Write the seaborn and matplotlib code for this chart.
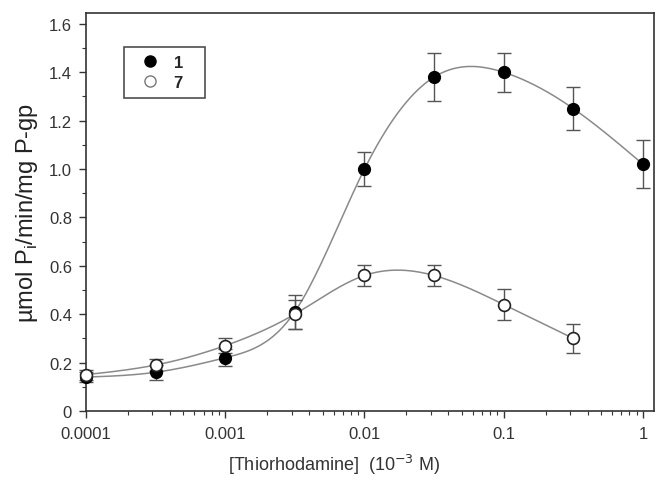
import numpy as np
import pandas as pd
import matplotlib
matplotlib.use("Agg")
import matplotlib.pyplot as plt
from matplotlib.lines import Line2D
from matplotlib.ticker import MultipleLocator, LogLocator, NullFormatter, FixedFormatter, FixedLocator
import seaborn as sns

# Data
conc = [1e-4, 3.16e-4, 1e-3, 3.16e-3, 1e-2, 3.16e-2, 0.1, 0.316, 1.0]
atpase_1 = [0.14, 0.16, 0.22, 0.41, 1.00, 1.38, 1.40, 1.25, 1.02]
err_1 = [0.02, 0.03, 0.035, 0.07, 0.072, 0.10, 0.08, 0.09, 0.10]
conc_7 = conc[:8]
atpase_7 = [0.15, 0.19, 0.27, 0.40, 0.56, 0.56, 0.44, 0.30]
err_7 = [0.02, 0.025, 0.03, 0.06, 0.045, 0.045, 0.063, 0.06]
x_ticks = [1e-4, 1e-3, 1e-2, 1e-1, 1]
x_tick_labels = ["0.0001", "0.001", "0.01", "0.1", "1"]
y_ticks = [0, 0.2, 0.4, 0.6, 0.8, 1.0, 1.2, 1.4, 1.6]
y_tick_labels = ["0", "0.2", "0.4", "0.6", "0.8", "1.0", "1.2", "1.4", "1.6"]


def smooth_curve(x, y, n=300):
    # natural cubic spline through the points, in log10(x)
    lx = np.log10(x)
    y = np.asarray(y, dtype=float)
    k = len(lx)
    h = np.diff(lx)
    A = np.zeros((k, k))
    b = np.zeros(k)
    A[0, 0] = A[-1, -1] = 1
    for i in range(1, k - 1):
        A[i, i - 1] = h[i - 1]
        A[i, i] = 2 * (h[i - 1] + h[i])
        A[i, i + 1] = h[i]
        b[i] = 6 * ((y[i + 1] - y[i]) / h[i] - (y[i] - y[i - 1]) / h[i - 1])
    M = np.linalg.solve(A, b)
    xs = np.linspace(lx[0], lx[-1], n)
    idx = np.clip(np.searchsorted(lx, xs) - 1, 0, k - 2)
    x0, x1 = lx[idx], lx[idx + 1]
    hh = x1 - x0
    t0, t1 = x1 - xs, xs - x0
    ys = (M[idx] * t0**3 + M[idx + 1] * t1**3) / (6 * hh) \
        + (y[idx] / hh - M[idx] * hh / 6) * t0 \
        + (y[idx + 1] / hh - M[idx + 1] * hh / 6) * t1
    return pd.DataFrame({"x": 10**xs, "y": ys})


sns.set_style("ticks")
plt.rcParams["font.family"] = ["Liberation Sans", "DejaVu Sans"]

fig = plt.figure(figsize=(6.68, 4.89), dpi=100)
ax = fig.add_axes([0.1287, 0.1575, 0.8503, 0.8139])

# fitted curves
fit_1 = smooth_curve(conc, atpase_1)
fit_7 = smooth_curve(conc_7, atpase_7)
sns.lineplot(data=fit_1, x="x", y="y", ax=ax, color="#8a8a8a", lw=1.1, sort=False)
sns.lineplot(data=fit_7, x="x", y="y", ax=ax, color="#8a8a8a", lw=1.1, sort=False)

# error bars
ax.errorbar(conc, atpase_1, yerr=err_1, fmt="none", ecolor="#555555",
            elinewidth=1, capsize=5, capthick=1, zorder=3, clip_on=False)
ax.errorbar(conc_7, atpase_7, yerr=err_7, fmt="none", ecolor="#555555",
            elinewidth=1, capsize=5, capthick=1, zorder=3, clip_on=False)

# markers
ax.plot(conc, atpase_1, "o", ms=8.5, mfc="black", mec="black", zorder=4, clip_on=False)
ax.plot(conc_7, atpase_7, "o", ms=8.5, mfc="white", mec="#222222", mew=1.2,
        zorder=5, clip_on=False)

ax.set_xscale("log")
ax.set_xlim(1e-4, 1.2)
ax.set_ylim(0, 1.645)
ax.xaxis.set_major_locator(FixedLocator(x_ticks))
ax.xaxis.set_major_formatter(FixedFormatter(x_tick_labels))
ax.xaxis.set_minor_locator(LogLocator(base=10, subs=np.arange(2, 10)))
ax.xaxis.set_minor_formatter(NullFormatter())
ax.set_yticks(y_ticks)
ax.set_yticklabels(y_tick_labels)
ax.yaxis.set_minor_locator(MultipleLocator(0.1))

ax.tick_params(which="major", direction="out", length=5, width=1,
               labelsize=12, labelcolor="#333333", color="#333333")
ax.tick_params(axis="x", which="major", pad=6)
ax.tick_params(axis="y", which="major", pad=5)
ax.tick_params(which="minor", direction="out", length=3, width=0.8, color="#333333")
for s in ax.spines.values():
    s.set_visible(True)
    s.set_linewidth(1.2)
    s.set_color("#333333")

ax.set_xlabel("[Thiorhodamine]  (10$^{-3}$ M)", fontsize=13, color="#333333")
ax.xaxis.set_label_coords(0.437, -0.133)
ax.xaxis.label.set_va("center")
ax.set_ylabel("µmol P$_\\mathregular{i}$/min/mg P-gp", fontsize=17, color="#222222")
ax.yaxis.set_label_coords(-0.103, 0.5)
ax.yaxis.label.set_va("center")

handles = [
    Line2D([], [], ls="none", marker="o", ms=8, mfc="black", mec="black"),
    Line2D([], [], ls="none", marker="o", ms=8, mfc="white", mec="#777777"),
]
leg = ax.legend(handles, ["1   ", "7   "], loc="upper left", bbox_to_anchor=(0.0669, 0.915),
                borderaxespad=0, frameon=True, fancybox=False, handletextpad=0.4,
                handlelength=2.1, labelspacing=0.3, borderpad=0.5,
                prop={"weight": "bold", "size": 12})
leg.get_frame().set_edgecolor("#222222")
leg.get_frame().set_linewidth(1.2)

fig.savefig("out.png", dpi=100)
